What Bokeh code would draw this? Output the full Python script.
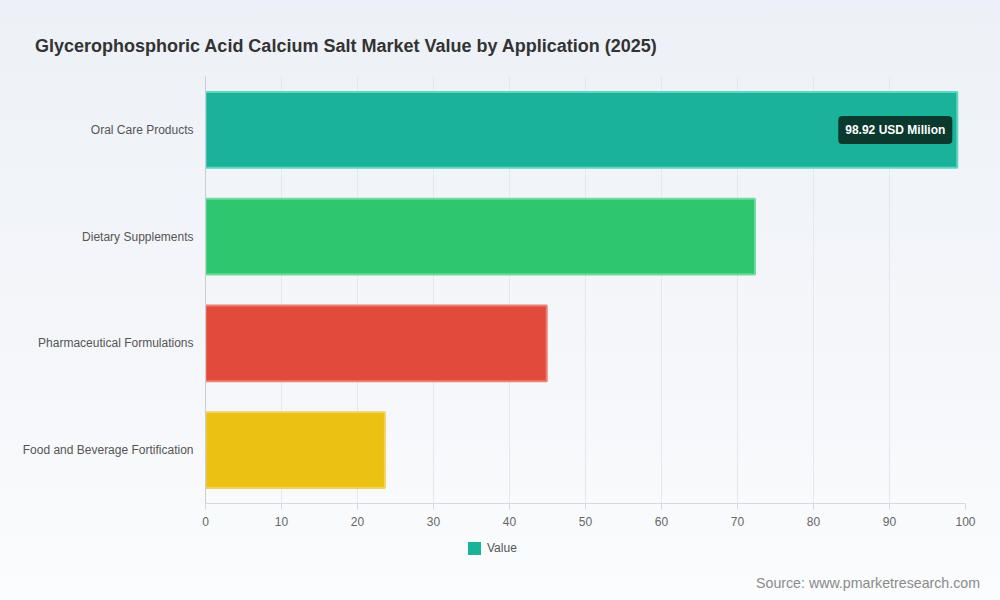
from bokeh.plotting import figure
from bokeh.models import (ColumnDataSource, FactorRange, Range1d, Label, Div,
                          SingleIntervalTicker)
from bokeh.layouts import column
from bokeh.embed import file_html
from bokeh.resources import INLINE

title_text = "Glycerophosphoric Acid Calcium Salt Market Value by Application (2025)"
categories = ["Oral Care Products", "Dietary Supplements",
              "Pharmaceutical Formulations", "Food and Beverage Fortification"]
values = [98.92, 72.3, 44.9, 23.6]
bar_colors = ["#1ab39a", "#2ec66e", "#e04b3b", "#ebc112"]
edge_colors = ["#5fd6c0", "#6fdc9c", "#ee8074", "#f3d25a"]
series_name = "Value"
annotation_text = "98.92 USD Million"
source_text = "Source: www.pmarketresearch.com"

FONT = "Liberation Sans"
W = 1000
TITLE_H, FIG_H, FOOT_H = 76, 457, 67
left, right, bottom = 205, 35, 30

src = ColumnDataSource(dict(cat=categories, val=values, fill=bar_colors, edge=edge_colors))

factors = list(reversed(categories))
p = figure(width=W, height=FIG_H, output_backend="svg", toolbar_location=None,
           y_range=FactorRange(factors=factors),
           x_range=Range1d(0, 100),
           min_border_left=left, min_border_right=right,
           min_border_top=0, min_border_bottom=bottom)
p.border_fill_alpha = 0
p.background_fill_alpha = 0
p.outline_line_alpha = 0

r = p.hbar(y="cat", right="val", left=0, height=0.71, source=src,
           fill_color="fill", line_color="edge", line_width=2)

# axes
p.xaxis.ticker = SingleIntervalTicker(interval=10)
p.xaxis.axis_line_color = "#d5d9e2"
p.xaxis.major_tick_line_color = "#d5d9e2"
p.xaxis.major_tick_out = 6
p.xaxis.major_tick_in = 0
p.xaxis.minor_tick_line_color = None
p.xaxis.major_label_text_font = FONT
p.xaxis.major_label_text_font_size = "12px"
p.xaxis.major_label_text_color = "#666666"
p.xaxis.major_label_standoff = 7

p.yaxis.axis_line_color = "#c8cdd8"
p.yaxis.major_tick_line_color = None
p.yaxis.major_tick_out = 0
p.yaxis.major_label_text_font = FONT
p.yaxis.major_label_text_font_size = "12px"
p.yaxis.major_label_text_color = "#555555"
p.yaxis.major_label_standoff = 12

p.xgrid.grid_line_color = "#e2e7f0"
p.ygrid.grid_line_color = None

# value annotation (synthetic categorical coordinate of the top factor)
top_y = factors.index(categories[0]) + 0.5
p.add_layout(Label(x=values[0], y=top_y, text=annotation_text,
                   x_offset=-5, text_align="right", text_baseline="middle",
                   text_font=FONT, text_font_size="12px", text_font_style="bold",
                   text_color="#ffffff", background_fill_color="#0a3328",
                   background_fill_alpha=0.95, padding=7, border_radius=4))

title_div = Div(
    text=(f'<div style="padding:35px 0 0 35px; margin:0; font-family:\'{FONT}\'; '
          f'font-size:18px; font-weight:bold; color:#333333; line-height:22px; '
          f'white-space:nowrap">{title_text}</div>'),
    width=W, height=TITLE_H, margin=0)

footer_div = Div(
    text=(f'<div style="position:relative; width:{W}px; height:{FOOT_H}px; '
          f'font-family:\'{FONT}\'">'
          f'<div style="position:absolute; left:468px; top:9px; display:flex; '
          f'align-items:center; font-size:12px; color:#555555; line-height:13px">'
          f'<span style="display:inline-block; width:13px; height:13px; '
          f'background:{bar_colors[0]}; margin-right:6px"></span>{series_name}</div>'
          f'<div style="position:absolute; right:20px; top:41px; font-size:14.2px; '
          f'color:#8a8a8a; line-height:18px; white-space:nowrap">{source_text}</div>'
          f'</div>'),
    width=W, height=FOOT_H, margin=0)

layout = column(title_div, p, footer_div, spacing=0)
layout.styles = {"background": "linear-gradient(180deg, #edf1f7 0%, #f4f6fa 55%, #fbfcfd 100%)"}

open("out.html", "w").write(file_html(layout, INLINE))
